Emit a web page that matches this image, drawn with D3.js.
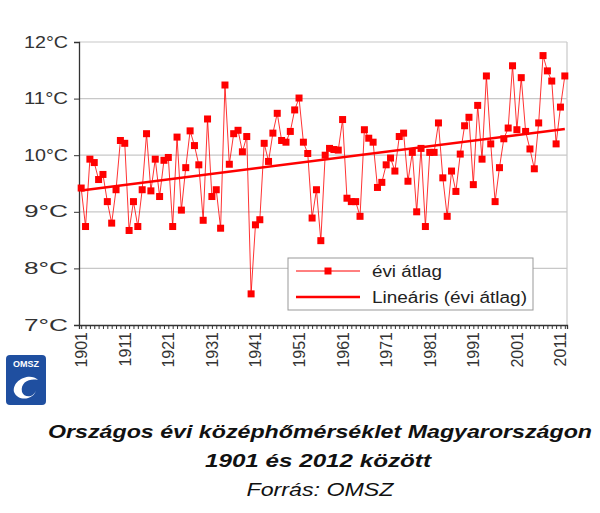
<!DOCTYPE html>
<html><head><meta charset="utf-8">
<script src="https://cdn.jsdelivr.net/npm/d3@7"></script>
<style>body{margin:0;background:#fff;font-family:"Liberation Sans",Arial,sans-serif}</style>
</head><body>
<script>
// yearly mean temperatures, 1901-2012
const startYear = 1901;
const temps = [9.42,8.74,9.93,9.87,9.57,9.66,9.18,8.80,9.39,10.26,
  10.21,8.67,9.18,8.74,9.39,10.38,9.37,9.93,9.27,9.91,
  9.96,8.74,10.32,9.03,9.78,10.43,10.17,9.83,8.85,10.64,
  9.27,9.39,8.71,11.24,9.84,10.38,10.44,10.06,10.33,7.55,
  8.77,8.86,10.21,9.89,10.39,10.74,10.26,10.23,10.42,10.80,
  11.01,10.23,10.03,8.89,9.39,8.49,10.0,10.12,10.10,10.09,
  10.63,9.24,9.18,9.18,8.92,10.45,10.30,10.23,9.43,9.52,
  9.83,9.95,9.72,10.33,10.39,9.54,10.05,9.0,10.12,8.74,
  10.05,10.05,10.57,9.60,8.92,9.72,9.36,10.02,10.52,10.67,
  9.48,10.88,9.93,11.40,10.20,9.18,9.78,10.29,10.48,11.58,
  10.45,11.37,10.42,10.11,9.76,10.57,11.76,11.49,11.31,10.20,
  10.85,11.40];
const yTicks = [7,8,9,10,11,12];
const xTickYears = d3.range(1901, 2012, 10);
const legendLabels = ["évi átlag", "Lineáris (évi átlag)"];
const captionLines = ["Országos évi középhőmérséklet Magyarországon", "1901 és 2012 között", "Forrás: OMSZ"];

const data = temps.map((t, i) => ({year: startYear + i, t}));
const red = "#ff0000";

const svg = d3.select("body").append("svg").attr("width", 600).attr("height", 513);

const x = d3.scaleLinear().domain([1900.5, 2012.5]).range([79, 567]);
const y = d3.scaleLinear().domain([7, 12]).range([325, 42]);

// gridlines
svg.append("g").selectAll("line").data(yTicks.slice(1)).join("line")
  .attr("x1", 79).attr("x2", 567)
  .attr("y1", d => y(d)).attr("y2", d => y(d))
  .attr("stroke", "#c8c8c8").attr("stroke-width", 1.2);
svg.append("line").attr("x1", 567).attr("x2", 567).attr("y1", 42).attr("y2", 325)
  .attr("stroke", "#c8c8c8").attr("stroke-width", 1.2);

// y axis
const yAxis = svg.append("g").attr("transform", "translate(79,0)")
  .call(d3.axisLeft(y).tickValues(yTicks).tickSize(5).tickPadding(6).tickFormat(d => d + "°C"));
yAxis.selectAll("text").attr("font-size", 16).attr("fill", "#333").attr("font-family", "Liberation Sans, Arial")
  .attr("textLength", 44).attr("lengthAdjust", "spacingAndGlyphs");
yAxis.select(".domain").attr("stroke", "#333").attr("stroke-width", 1.3);
yAxis.selectAll(".tick line").attr("stroke", "#333");

// x axis: minor yearly ticks, labels every 10 years
svg.append("g").attr("transform", "translate(0,325)")
  .call(d3.axisBottom(x).tickValues(d3.range(1901, 2013)).tickSize(4).tickFormat(""))
  .call(g => g.select(".domain").attr("stroke", "#333").attr("stroke-width", 1.3))
  .call(g => g.selectAll(".tick line").attr("stroke", "#333"));
svg.append("g").selectAll("text").data(xTickYears).join("text")
  .attr("transform", d => `translate(${x(d) + 6},332) rotate(-90)`)
  .attr("text-anchor", "end").attr("font-size", 16).attr("fill", "#333")
  .text(d => d);

// trend line (least squares)
const mx = d3.mean(data, d => d.year), my = d3.mean(data, d => d.t);
const slope = d3.sum(data, d => (d.year - mx) * (d.t - my)) / d3.sum(data, d => (d.year - mx) ** 2);
const fit = yr => my + slope * (yr - mx);
svg.append("line")
  .attr("x1", x(1901)).attr("y1", y(fit(1901)))
  .attr("x2", x(2012)).attr("y2", y(fit(2012)))
  .attr("stroke", red).attr("stroke-width", 2.5);

// series
svg.append("path").datum(data)
  .attr("d", d3.line().x(d => x(d.year)).y(d => y(d.t)))
  .attr("fill", "none").attr("stroke", red).attr("stroke-width", 1).attr("stroke-opacity", 0.8);
svg.append("g").selectAll("rect").data(data).join("rect")
  .attr("x", d => x(d.year) - 3.5).attr("y", d => y(d.t) - 3.5)
  .attr("width", 7).attr("height", 7).attr("fill", red);

// legend
const lg = svg.append("g");
lg.append("rect").attr("x", 288).attr("y", 258).attr("width", 245).attr("height", 52)
  .attr("fill", "#fff").attr("stroke", "#999");
lg.append("line").attr("x1", 296).attr("x2", 360).attr("y1", 271).attr("y2", 271).attr("stroke", red);
lg.append("rect").attr("x", 324.5).attr("y", 267.5).attr("width", 7).attr("height", 7).attr("fill", red);
lg.append("line").attr("x1", 296).attr("x2", 360).attr("y1", 297).attr("y2", 297).attr("stroke", red).attr("stroke-width", 2.5);
lg.selectAll("text").data(legendLabels).join("text")
  .attr("x", 372).attr("y", (d, i) => 277 + i * 26)
  .attr("font-size", 16).attr("fill", "#222")
  .attr("textLength", (d, i) => i ? 155 : 70).attr("lengthAdjust", "spacingAndGlyphs")
  .text(d => d);

// OMSZ logo
const logo = svg.append("g");
logo.append("rect").attr("x", 6).attr("y", 355).attr("width", 40).attr("height", 50).attr("rx", 4).attr("fill", "#1f4fa0");
logo.append("text").attr("x", 26).attr("y", 367).attr("text-anchor", "middle")
  .attr("font-size", 9).attr("font-weight", "bold").attr("fill", "#fff").text("OMSZ");
logo.append("path").attr("d", "M14,392 C12,380 30,372 38,380 C30,378 20,382 22,392 C24,398 34,398 36,390 C34,400 18,402 14,392 Z")
  .attr("fill", "#fff");

// caption
const capLen = [544, 226, 147];
svg.append("g").selectAll("text").data(captionLines).join("text")
  .attr("x", (d, i) => [320, 318, 320][i])
  .attr("y", (d, i) => 438 + i * 29)
  .attr("text-anchor", "middle").attr("font-style", "italic")
  .attr("font-weight", (d, i) => i < 2 ? "bold" : "normal")
  .attr("font-size", 19).attr("fill", "#111")
  .attr("textLength", (d, i) => capLen[i]).attr("lengthAdjust", "spacingAndGlyphs")
  .text(d => d);
</script>
</body></html>
